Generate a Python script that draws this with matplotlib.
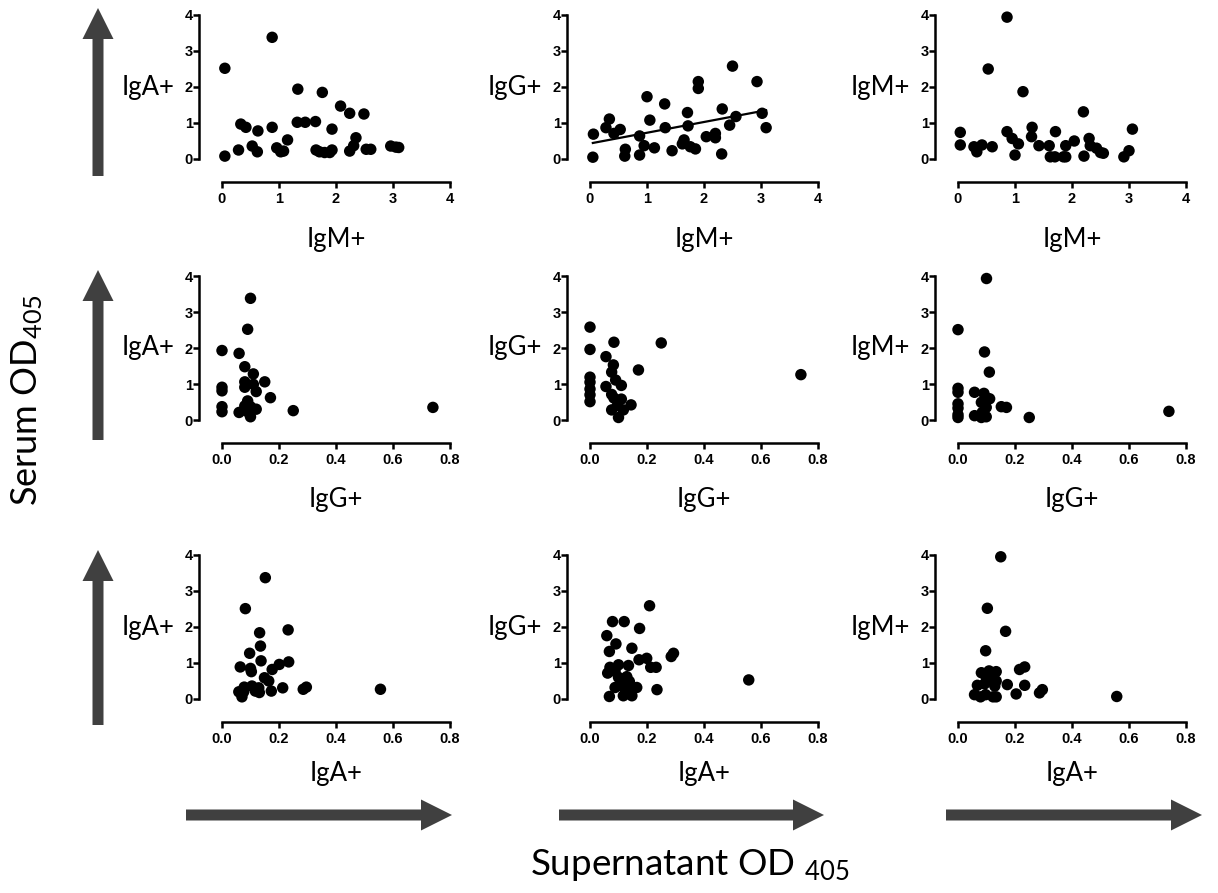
import numpy as np
import matplotlib
matplotlib.use("Agg")
import matplotlib.pyplot as plt
from matplotlib.patches import FancyArrow

# ---------------- data ----------------
# Row 1: x = supernatant IgM+
r1c1_x = [0.05, 0.05, 0.88, 0.29, 0.33, 0.42, 0.53, 0.62, 0.63, 0.88, 0.96, 1.03, 1.08, 1.15,
          1.33, 1.32, 1.46, 1.64, 1.65, 1.76, 1.71, 1.80, 1.89, 1.93, 1.93, 2.08, 2.24, 2.24,
          2.31, 2.35, 2.49, 2.53, 2.61, 2.96, 3.05, 3.10]
r1c1_y = [0.08, 2.52, 3.38, 0.25, 0.97, 0.88, 0.36, 0.20, 0.78, 0.88, 0.31, 0.20, 0.22, 0.53,
          1.94, 1.02, 1.02, 1.04, 0.25, 1.85, 0.20, 0.18, 0.18, 0.25, 0.83, 1.47, 1.27, 0.22,
          0.37, 0.59, 1.25, 0.27, 0.27, 0.36, 0.33, 0.32]

r1c2_x = [0.06, 0.05, 0.28, 0.34, 0.42, 0.53, 0.62, 0.61, 0.87, 0.87, 0.95, 1.00, 1.05, 1.13,
          1.31, 1.32, 1.44, 1.62, 1.65, 1.71, 1.72, 1.76, 1.85, 1.90, 1.90, 2.04, 2.20, 2.20,
          2.31, 2.32, 2.45, 2.50, 2.56, 2.93, 3.02, 3.09]
r1c2_y = [0.69, 0.05, 0.87, 1.11, 0.71, 0.82, 0.27, 0.08, 0.64, 0.11, 0.37, 1.73, 1.08, 0.31,
          1.53, 0.87, 0.23, 0.42, 0.53, 1.29, 0.92, 0.34, 0.28, 2.15, 1.96, 0.62, 0.71, 0.59,
          0.14, 1.39, 0.94, 2.58, 1.18, 2.15, 1.27, 0.87]

r1c3_x = [0.04, 0.04, 0.28, 0.33, 0.42, 0.53, 0.60, 0.86, 0.86, 0.95, 1.00, 1.06, 1.14, 1.30,
          1.29, 1.42, 1.60, 1.62, 1.70, 1.71, 1.85, 1.89, 1.89, 2.04, 2.20, 2.21, 2.30, 2.32,
          2.43, 2.50, 2.55, 2.91, 3.00, 3.06]
r1c3_y = [0.74, 0.39, 0.34, 0.20, 0.39, 2.50, 0.34, 3.94, 0.76, 0.57, 0.11, 0.42, 1.87, 0.88,
          0.62, 0.37, 0.37, 0.06, 0.06, 0.76, 0.06, 0.06, 0.37, 0.50, 1.31, 0.08, 0.57, 0.37,
          0.30, 0.18, 0.16, 0.06, 0.23, 0.83]

# Row 2: x = supernatant IgG+
r2c1_x = [0.10, 0.09, 0.00, 0.06, 0.08, 0.11, 0.08, 0.08, 0.15, 0.11, 0.12, 0.00, 0.00,
          0.17, 0.09, 0.00, 0.00, 0.06, 0.08, 0.09, 0.10, 0.12, 0.10, 0.25, 0.74]
r2c1_y = [3.38, 2.52, 1.93, 1.85, 1.48, 1.28, 1.06, 0.91, 1.06, 0.99, 0.79, 0.91, 0.81,
          0.62, 0.53, 0.37, 0.23, 0.21, 0.39, 0.23, 0.09, 0.30, 0.37, 0.26, 0.35]

r2c2_x = [0.00, 0.00, 0.084, 0.25, 0.056, 0.082, 0.076, 0.17, 0.09, 0.11, 0.00, 0.00, 0.00,
          0.00, 0.00, 0.056, 0.076, 0.084, 0.11, 0.144, 0.076, 0.096, 0.117, 0.10, 0.74]
r2c2_y = [2.58, 1.96, 2.16, 2.14, 1.76, 1.53, 1.33, 1.39, 1.11, 0.96, 1.19, 1.05, 0.86,
          0.70, 0.51, 0.93, 0.71, 0.61, 0.58, 0.42, 0.28, 0.40, 0.28, 0.07, 1.26]

r2c3_x = [0.10, 0.00, 0.093, 0.11, 0.00, 0.00, 0.00, 0.00, 0.00, 0.00, 0.058, 0.091,
          0.111, 0.082, 0.099, 0.152, 0.17, 0.058, 0.082, 0.099, 0.085, 0.25, 0.74]
r2c3_y = [3.93, 2.51, 1.89, 1.33, 0.88, 0.77, 0.45, 0.33, 0.15, 0.07, 0.77, 0.74,
          0.59, 0.49, 0.35, 0.37, 0.35, 0.12, 0.07, 0.09, 0.21, 0.07, 0.24]

# Row 3: x = supernatant IgA+
r3c1_x = [0.152, 0.082, 0.232, 0.132, 0.135, 0.097, 0.137, 0.234, 0.201, 0.176, 0.064,
          0.100, 0.103, 0.149, 0.164, 0.078, 0.105, 0.129, 0.059, 0.076, 0.070, 0.117,
          0.131, 0.173, 0.213, 0.285, 0.296, 0.556]
r3c1_y = [3.37, 2.51, 1.92, 1.84, 1.47, 1.27, 1.06, 1.03, 0.96, 0.82, 0.89,
          0.85, 0.76, 0.59, 0.50, 0.33, 0.36, 0.31, 0.20, 0.20, 0.06, 0.22,
          0.18, 0.22, 0.31, 0.27, 0.33, 0.27]

r3c2_x = [0.209, 0.079, 0.120, 0.174, 0.059, 0.091, 0.068, 0.147, 0.172, 0.199, 0.285,
          0.293, 0.213, 0.232, 0.070, 0.100, 0.135, 0.062, 0.088, 0.100, 0.129, 0.138,
          0.088, 0.111, 0.135, 0.164, 0.235, 0.068, 0.117, 0.147, 0.127, 0.557]
r3c2_y = [2.59, 2.15, 2.15, 1.96, 1.76, 1.53, 1.32, 1.41, 1.09, 1.13, 1.18,
          1.27, 0.88, 0.88, 0.88, 0.95, 0.93, 0.72, 0.77, 0.60, 0.62, 0.49,
          0.32, 0.37, 0.37, 0.32, 0.26, 0.07, 0.09, 0.09, 0.20, 0.53]

r3c3_x = [0.150, 0.103, 0.167, 0.097, 0.216, 0.234, 0.082, 0.109, 0.134, 0.099, 0.123,
          0.134, 0.068, 0.093, 0.129, 0.173, 0.234, 0.058, 0.079, 0.097, 0.123, 0.134,
          0.204, 0.286, 0.296, 0.557]
r3c3_y = [3.95, 2.52, 1.88, 1.34, 0.82, 0.89, 0.73, 0.78, 0.76, 0.61, 0.54,
          0.50, 0.38, 0.42, 0.36, 0.40, 0.38, 0.12, 0.06, 0.12, 0.06, 0.06,
          0.14, 0.17, 0.26, 0.07]

row_xlabels = ["IgM+", "IgG+", "IgA+"]
col_ylabels = ["IgA+", "IgG+", "IgM+"]
row_xmax = [4, 0.8, 0.8]
row_xticks = [[0, 1, 2, 3, 4], [0, 0.2, 0.4, 0.6, 0.8], [0, 0.2, 0.4, 0.6, 0.8]]
row_xticklabels = [["0", "1", "2", "3", "4"],
                   ["0.0", "0.2", "0.4", "0.6", "0.8"],
                   ["0.0", "0.2", "0.4", "0.6", "0.8"]]
y_ticks = [0, 1, 2, 3, 4]

panels = [[(r1c1_x, r1c1_y), (r1c2_x, r1c2_y), (r1c3_x, r1c3_y)],
          [(r2c1_x, r2c1_y), (r2c2_x, r2c2_y), (r2c3_x, r2c3_y)],
          [(r3c1_x, r3c1_y), (r3c2_x, r3c2_y), (r3c3_x, r3c3_y)]]
fit_panel = (0, 1)

# ---------------- layout (pixels) ----------------
W, H = 1218, 893
col_x0 = [222, 590, 958]
ax_w = 228
row_ytop = [15, 276, 555]
ax_h = 144
spine_off = 16.5        # points
xlabel_y = [240, 500, 774]
v_arrows = [(98, 176, 8), (98, 440, 270), (98, 725, 550)]
h_arrows = [(186, 452, 815), (559, 824, 815), (946, 1202, 815)]
arrow_col = "#404040"

plt.rcParams["mathtext.fontset"] = "custom"
plt.rcParams["mathtext.rm"] = "Lato"
plt.rcParams["mathtext.default"] = "regular"

fig = plt.figure(figsize=(W / 100, H / 100), dpi=100)

# overlay in pixel coordinates for the big arrows
bg = fig.add_axes([0, 0, 1, 1], zorder=0)
bg.set_xlim(0, W)
bg.set_ylim(H, 0)
bg.axis("off")
for x, y_tail, y_tip in v_arrows:
    bg.add_patch(FancyArrow(x, y_tail, 0, y_tip - y_tail, width=11, head_width=31,
                            head_length=31, length_includes_head=True,
                            color=arrow_col, lw=0))
for x_tail, x_tip, y in h_arrows:
    bg.add_patch(FancyArrow(x_tail, y, x_tip - x_tail, 0, width=11, head_width=31,
                            head_length=31, length_includes_head=True,
                            color=arrow_col, lw=0))

tick_font = dict(family="Liberation Sans", weight="bold", size=10.5)

for r in range(3):
    for c in range(3):
        x0 = col_x0[c]
        ytop = row_ytop[r]
        ax = fig.add_axes([x0 / W, 1 - (ytop + ax_h) / H, ax_w / W, ax_h / H], zorder=2)
        ax.patch.set_visible(False)
        xs, ys = panels[r][c]
        ax.scatter(xs, ys, s=68, color="black", edgecolors="none", clip_on=False, zorder=3)
        if (r, c) == fit_panel:
            k, b = np.polyfit(xs, ys, 1)
            xx = np.array([min(xs), max(xs)])
            ax.plot(xx, k * xx + b, color="black", lw=1.6, clip_on=False, zorder=2)
        ax.set_xlim(0, row_xmax[r])
        ax.set_ylim(0, 4)
        for s in ("top", "right"):
            ax.spines[s].set_visible(False)
        for s in ("left", "bottom"):
            ax.spines[s].set_position(("outward", spine_off))
            ax.spines[s].set_linewidth(1.8)
        ax.spines["bottom"].set_bounds(0, row_xmax[r])
        ax.spines["left"].set_bounds(0, 4)
        ax.set_xticks(row_xticks[r])
        ax.set_xticklabels(row_xticklabels[r], fontdict=tick_font)
        ax.set_yticks(y_ticks)
        ax.set_yticklabels([str(t) for t in y_ticks], fontdict=tick_font)
        ax.tick_params(axis="x", direction="out", length=4, width=1.8, pad=3)
        ax.tick_params(axis="y", direction="out", length=4, width=1.8, pad=0.5)
        # labels
        fig.text((x0 + ax_w / 2) / W, 1 - xlabel_y[r] / H, row_xlabels[r],
                 family="Lato", size=18.5, ha="center", va="center")
        fig.text((x0 - 48) / W, 1 - (ytop + ax_h / 2) / H, col_ylabels[c],
                 family="Lato", size=18.5, ha="right", va="center")

fig.text(27 / W, 1 - 400 / H, "Serum OD$_{405}$", family="Lato", size=26,
         rotation=90, ha="center", va="center")
fig.text(690 / W, 1 - 865 / H, "Supernatant OD $_{405}$", family="Lato", size=26.5,
         ha="center", va="center")

fig.savefig("out.png", dpi=100)
